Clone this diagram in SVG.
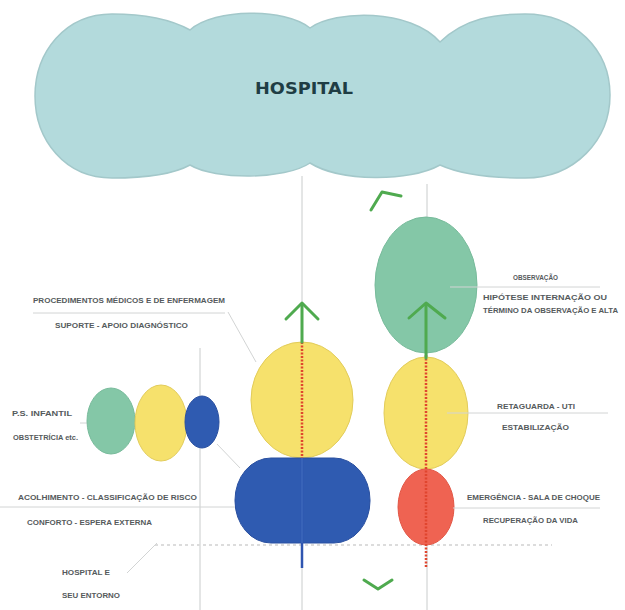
<svg xmlns="http://www.w3.org/2000/svg" width="625" height="610" viewBox="0 0 625 610">
<defs>
<style>
.lbl{font-family:"Liberation Sans",Arial,sans-serif;font-size:7.5px;font-weight:bold;fill:#555a5c;}
.guide{stroke:#c9cccc;stroke-width:1;fill:none;}
.leader{stroke:#d2d4d4;stroke-width:1;fill:none;}
.arrow{stroke:#4faa4f;stroke-width:3;fill:none;stroke-linecap:round;stroke-linejoin:round;}
.dots{stroke:#e0452e;stroke-width:2.5;stroke-dasharray:2 1.5;fill:none;}
.yel{fill:#f6e16c;stroke:#e2cc5a;stroke-width:1;}
.blu{fill:#2f5bb1;stroke:#2a50a0;stroke-width:1;}
.grn{fill:#84c7a7;stroke:#78bb9b;stroke-width:1;}
.red{fill:#ef6352;stroke:#e25645;stroke-width:1;}
</style>
</defs>
<rect width="625" height="610" fill="#ffffff"/>

<g id="guides">
<line class="guide" x1="302" y1="176" x2="302" y2="610"/>
<line class="guide" x1="427" y1="184" x2="427" y2="610" stroke="#e8cccc"/>
<line class="guide" x1="200" y1="348" x2="200" y2="610"/>
<line x1="155" y1="545" x2="552" y2="545" stroke="#dcdcdc" stroke-width="2" stroke-dasharray="3 3"/>
</g>

<g id="hospital">
<path d="M190,30 C215,8 285,8 310,28 C335,10 410,8 440,42 C465,18 495,14 525,14 C575,14 610,50 610,95 C610,140 575,178 525,178 C495,178 462,175 440,165 C410,182 340,182 310,163 C285,180 215,180 190,165 C170,176 140,178 112,178 C65,178 35,140 35,96 C35,52 65,14 112,14 C145,14 172,20 190,30 Z" fill="#b3dadc" stroke="#a3c8ca" stroke-width="1.5"/>
<text x="304" y="94" text-anchor="middle" font-family="'DejaVu Sans',sans-serif" font-size="15" font-weight="bold" fill="#1f3d44" textLength="98" lengthAdjust="spacingAndGlyphs">HOSPITAL</text>
</g>

<g id="left-group">
<line class="leader" x1="80" y1="423" x2="215" y2="423"/>
<ellipse class="grn" cx="111" cy="421" rx="24" ry="33" fill="#88cdb1"/>
<ellipse class="yel" cx="161" cy="423" rx="26" ry="38"/>
<ellipse class="blu" cx="202" cy="422" rx="17" ry="26"/>
<text class="lbl" x="12" y="416" textLength="60" lengthAdjust="spacingAndGlyphs">P.S. INFANTIL</text>
<text class="lbl" x="13" y="440" textLength="65" lengthAdjust="spacingAndGlyphs">OBSTETRÍCIA etc.</text>
</g>

<g id="procedimentos">
<ellipse class="yel" cx="302" cy="400" rx="51" ry="58"/>
</g>

<g id="acolhimento">
<rect class="blu" x="235" y="458" width="135" height="85" rx="36" ry="42"/>
</g>

<g id="observacao">
<ellipse class="grn" cx="426" cy="285" rx="51" ry="68"/>
</g>

<g id="retaguarda">
<ellipse class="yel" cx="426" cy="413" rx="42" ry="56"/>
</g>

<g id="emergencia">
<ellipse class="red" cx="426" cy="507" rx="28" ry="38"/>
</g>

<g id="labels">
<text class="lbl" x="33" y="303" textLength="192" lengthAdjust="spacingAndGlyphs">PROCEDIMENTOS MÉDICOS E DE ENFERMAGEM</text>
<text class="lbl" x="55" y="328" textLength="133" lengthAdjust="spacingAndGlyphs">SUPORTE - APOIO DIAGNÓSTICO</text>
<text class="lbl" x="18" y="500" textLength="179" lengthAdjust="spacingAndGlyphs">ACOLHIMENTO - CLASSIFICAÇÃO DE RISCO</text>
<text class="lbl" x="27" y="525" textLength="125" lengthAdjust="spacingAndGlyphs">CONFORTO - ESPERA EXTERNA</text>
<text class="lbl" x="62" y="575" textLength="48" lengthAdjust="spacingAndGlyphs">HOSPITAL E</text>
<text class="lbl" x="62" y="598" textLength="58" lengthAdjust="spacingAndGlyphs">SEU ENTORNO</text>
<text class="lbl" x="513" y="280" textLength="45" lengthAdjust="spacingAndGlyphs">OBSERVAÇÃO</text>
<text class="lbl" x="483" y="300" textLength="124" lengthAdjust="spacingAndGlyphs">HIPÓTESE INTERNAÇÃO OU</text>
<text class="lbl" x="483" y="313" textLength="135" lengthAdjust="spacingAndGlyphs">TÉRMINO DA OBSERVAÇÃO E ALTA</text>
<text class="lbl" x="497" y="409" textLength="78" lengthAdjust="spacingAndGlyphs">RETAGUARDA - UTI</text>
<text class="lbl" x="502" y="430" textLength="67" lengthAdjust="spacingAndGlyphs">ESTABILIZAÇÃO</text>
<text class="lbl" x="467" y="500" textLength="133" lengthAdjust="spacingAndGlyphs">EMERGÊNCIA - SALA DE CHOQUE</text>
<text class="lbl" x="483" y="523" textLength="95" lengthAdjust="spacingAndGlyphs">RECUPERAÇÃO DA VIDA</text>
</g>

<g id="connectors">
<line class="leader" x1="33" y1="313" x2="225" y2="313"/>
<line class="leader" x1="228" y1="312" x2="256" y2="362"/>
<line class="leader" x1="450" y1="287" x2="600" y2="287"/>
<line class="leader" x1="447" y1="413" x2="608" y2="413"/>
<line class="leader" x1="453" y1="508" x2="600" y2="508"/>
<line class="leader" x1="0" y1="507" x2="235" y2="507"/>
<line class="leader" x1="127" y1="573" x2="157" y2="543"/>
<line class="leader" x1="217" y1="444" x2="240" y2="468" stroke="#f3dcc8"/>
<line class="dots" x1="302" y1="342" x2="302" y2="458"/>
<line x1="302" y1="458" x2="302" y2="568" stroke="#2f55b0" stroke-width="2.5"/>
<line x1="302" y1="458" x2="302" y2="543" stroke="#3d68bb" stroke-width="1.5"/>
<line class="arrow" x1="302" y1="304" x2="302" y2="342"/>
<polyline class="arrow" points="286,319 302,303 318,319"/>
<line class="dots" x1="426" y1="355" x2="426" y2="568"/>
<line class="arrow" x1="426" y1="304" x2="426" y2="358"/>
<polyline class="arrow" points="409,318 426,303 445,318"/>
<polyline class="arrow" points="371,210 382,192 401,196" stroke="#5a9d5a"/>
<polyline class="arrow" points="364,580 378,589 392,580" stroke="#7cc47c"/>
</g>
</svg>
